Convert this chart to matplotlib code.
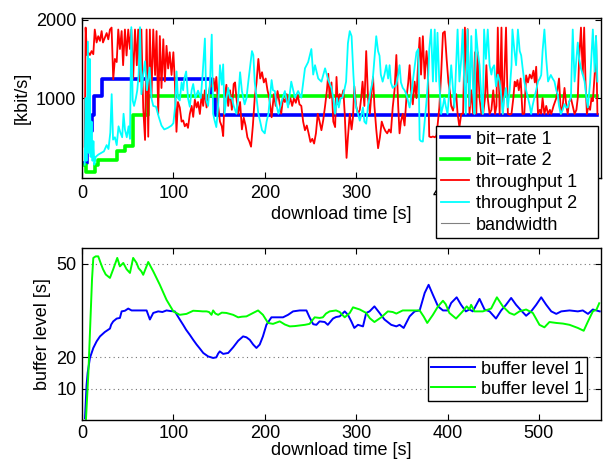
import numpy as np
import matplotlib
matplotlib.use("Agg")
import matplotlib.pyplot as plt

plt.rcParams['font.family'] = ['Liberation Sans', 'DejaVu Sans']

# bit-rate steps (time [s], kbit/s)
br1_t = [3, 5, 7, 11.5, 13, 21.5, 141, 146, 564]
br1_v = [170, 400, 580, 790, 1030, 1250, 1030, 790, 790]
br2_t = [3, 4.5, 14, 17, 38, 47, 56, 72.5, 564]
br2_v = [140, 60, 140, 210, 320, 390, 790, 1030, 1030]

# throughput 1
red = [
    (3, 380), (4, 1900), (5.5, 1550), (7, 1580), (8.7, 1550), (10.5, 1600), (12.4, 1560),
    (14, 1875), (16, 1710), (17.8, 1790), (19.7, 1730), (21.5, 1855), (23, 1710), (25, 1770),
    (27, 1830), (28.8, 1750), (30.6, 1875), (32.4, 1900), (34.2, 1240), (36, 1500), (38, 1460),
    (39.7, 1875), (41.5, 1626), (43.4, 1855), (45, 1420), (47, 1875), (48.8, 1544), (50.6, 1875),
    (52.5, 1626), (54, 1875), (56, 1254), (58, 1875), (60, 1419), (61.5, 1875), (63.4, 1212),
    (65, 1875), (67, 880), (69, 466), (70.7, 1875), (72.5, 507), (74.3, 1875), (76, 1005),
    (78, 1875), (80, 1295), (81.6, 1855), (83.4, 797), (85.2, 1792), (87, 1129), (89, 1751),
    (90.7, 1212), (92.5, 1667), (94.3, 1378), (96, 1585), (98, 1295), (100, 1585), (101.6, 1212),
    (103.4, 570), (105, 950), (107, 880), (109, 700), (110.7, 715), (112.5, 640), (114.4, 673),
    (116, 620), (118, 797), (120, 900), (121.7, 760), (123.5, 980), (125.4, 880), (127, 950),
    (129, 797), (131, 1050), (132.6, 900), (134.5, 1100), (136.3, 880), (138, 1000), (140, 1150),
    (142, 1150), (144, 1250), (145.5, 1090), (147, 1270), (149, 900), (151, 700), (153, 640),
    (154.5, 515), (156, 1000), (158, 1170), (160, 900), (162, 1100), (164, 850), (166, 1180),
    (167.5, 1200), (169, 1000), (171, 800), (173, 950), (175, 600), (177, 750), (179, 650),
    (181, 500), (183, 450), (185, 380), (187, 650), (189, 1000), (191, 1200), (193, 1500),
    (195, 1250), (197, 1330), (199, 1200), (201, 1250), (203, 1100), (205, 1000), (207.5, 755),
    (210, 1050), (212, 900), (214, 1090), (216, 950), (218, 800), (220, 1000), (222, 950),
    (224, 1050), (226, 920), (228, 1000), (230, 900), (232, 1000), (234, 940), (236, 1040),
    (238, 920), (240, 900), (242, 700), (244, 590), (246, 650), (248, 550), (250, 440),
    (252, 480), (254, 420), (256, 550), (258, 800), (260, 700), (262, 590), (264, 720),
    (266, 900), (268, 1100), (269.5, 1310), (271, 1000), (273, 1200), (275, 700), (277, 630),
    (278.5, 1270), (280, 920), (282, 1050), (284, 1000), (286, 1100), (287.5, 800), (289.5, 237),
    (291, 500), (293, 800), (295, 600), (296.5, 750), (298, 1150), (300, 900), (302, 800),
    (304, 850), (305.5, 1000), (307, 1210), (309, 900), (311, 1600), (313, 1000), (315, 800),
    (317, 1100), (318.5, 1270), (320, 900), (322, 600), (324, 360), (326, 500), (328, 700),
    (330, 630), (332, 580), (334, 550), (336, 600), (338, 560), (340, 880), (342, 1100),
    (344, 1550), (346, 900), (347.5, 550), (349, 700), (351, 800), (353, 650), (355, 1000),
    (357, 1200), (358.5, 1420), (360, 1100), (362, 920), (364, 1210), (366, 1000), (368, 1500),
    (369.5, 1770), (371, 1300), (373, 1790), (375, 1250), (377, 1600), (378.5, 1380), (380, 510),
    (382, 500), (384, 510), (386, 500), (388, 520), (389.5, 700), (391, 880), (393, 1300),
    (395, 1830), (397, 1850), (399, 1500), (401, 1200), (402.5, 1090), (404, 900), (406, 840),
    (408, 1000), (409.5, 1050), (411, 800), (413, 630), (415, 800), (417, 800), (419, 1900),
    (421, 1200), (422, 1880), (424, 800), (426, 1100), (428, 800), (430, 1585), (431.5, 800),
    (433, 1585), (435, 1000), (437, 800), (439, 800), (441, 1000), (442.5, 1420), (444, 1000),
    (446, 797), (448, 850), (450, 1100), (452, 797), (453.5, 900), (455, 1900), (457, 797),
    (459, 1900), (460.5, 797), (462, 1200), (464, 1900), (466, 800), (468, 790), (470, 800),
    (472, 1000), (473.5, 1210), (475, 1150), (476.5, 1230), (478, 1100), (480, 1250), (482, 797),
    (484, 800), (486, 1290), (488, 1200), (490, 1300), (492, 1250), (494, 1350), (495.5, 1200),
    (497, 1400), (499, 797), (501, 850), (502.5, 800), (504, 1000), (506, 797), (508, 900),
    (510, 797), (512, 850), (513.5, 797), (516, 900), (519, 1000), (522, 1250), (524, 797),
    (526, 900), (528, 1130), (530, 900), (531.5, 797), (533, 950), (535, 1000), (537, 900),
    (539, 797), (541, 850), (542.5, 1000), (544, 1500), (546, 1900), (548, 1300), (549.5, 1900),
    (551, 1200), (552.5, 797), (554, 900), (556, 850), (557.5, 1000), (559, 960), (561, 1300),
    (562.5, 1790), (564, 797),
]

# throughput 2
cyan = [
    (3, 150), (4, 1000), (5, 200), (6.5, 1720), (7.5, 300), (8.5, 1500), (9.5, 250), (10.5, 700),
    (11.5, 200), (12.5, 450), (13.5, 150), (15, 250), (18, 280), (21, 300), (24, 320), (27, 400),
    (29, 350), (31, 560), (32.5, 1050), (34, 470), (36, 500), (38, 400), (40, 640), (42, 560),
    (44, 500), (45.5, 800), (47, 600), (49, 500), (51, 640), (52.5, 480), (54, 1905), (55.5, 970),
    (57, 900), (59, 1000), (60.5, 1100), (62, 1300), (63.5, 1905), (65, 1050), (67, 1300),
    (69, 1470), (71, 1100), (74, 1390), (76, 1000), (78, 900), (81, 890), (84, 760), (87, 650),
    (90, 600), (94, 620), (98, 650), (100, 680), (102, 900), (103.5, 1340), (105, 1000),
    (107, 970), (109, 1200), (110.7, 1100), (112, 1250), (114, 1340), (116, 1000), (118, 890),
    (120, 1100), (121.7, 1180), (124, 1000), (127, 1095), (130, 1000), (132, 1300), (134.5, 1760),
    (136, 972), (138, 900), (140, 1180), (142, 1810), (143.5, 800), (145, 720), (147, 630),
    (149, 900), (151, 1420), (153, 1170), (154.5, 1430), (156, 800), (158, 1000), (160, 1130),
    (162, 1000), (164, 1000), (166, 900), (169, 800), (171, 1000), (173, 1330), (175, 1090),
    (178, 920), (180, 1000), (182, 1210), (184, 1400), (186, 1600), (187.5, 1550), (189, 1210),
    (191, 1000), (193, 800), (195, 700), (197, 590), (200, 550), (202, 700), (204, 800),
    (207.5, 1230), (209, 1100), (211, 1090), (213, 900), (215, 800), (218.5, 963), (222, 1090),
    (225.5, 880), (229, 1210), (233, 1005), (236.5, 1090), (240, 1005), (244, 1380),
    (247.5, 1460), (251, 1626), (253, 1300), (255, 1420), (258.5, 1250), (262, 1210),
    (266, 1380), (269.5, 1230), (273, 1130), (275, 1000), (277, 800), (279, 1000), (281, 880),
    (283, 1000), (285, 1005), (287, 1100), (289, 1210), (291, 1700), (293, 1855), (295, 1790),
    (297, 1300), (298.5, 1005), (300, 880), (302, 800), (304, 712), (306, 800), (307.5, 880),
    (309, 700), (311, 673), (313, 900), (314.6, 1005), (316, 1100), (318, 1210), (320, 1500),
    (322, 1790), (324, 1600), (325.6, 1540), (327, 1300), (329, 1210), (331, 1300), (333, 1420),
    (335, 1250), (336.6, 1420), (338, 1200), (340, 1130), (342, 1150), (344, 1170), (346, 1300),
    (347.5, 1420), (349, 1200), (351, 1130), (353, 1100), (355, 1046), (357, 950), (358.5, 880),
    (360, 1000), (362, 1212), (364, 1400), (366, 1585), (368, 1626), (369.5, 470), (371, 450),
    (373, 445), (375, 700), (377, 963), (379, 1300), (380, 1626), (382, 1875), (384, 1212),
    (386, 1875), (387.5, 1212), (389, 1834), (391, 1200), (393, 797), (395, 900), (396.5, 1005),
    (398, 900), (400, 797), (402, 1100), (404, 1419), (406, 1100), (407.5, 880), (409, 1300),
    (411, 1875), (413, 1212), (415, 1500), (416.6, 1875), (418, 1300), (420, 797), (422, 1875),
    (424, 900), (426, 1792), (428, 1100), (429.5, 797), (431, 1875), (433, 1600), (435, 1419),
    (437, 1000), (438.6, 797), (440, 1875), (442, 1500), (444, 1875), (446, 1419), (448, 1300),
    (449, 1378), (451, 1419), (453, 1150), (455, 1300), (457, 1212), (459, 1000), (460.5, 797),
    (462, 1000), (464, 1129), (466, 880), (468, 1100), (470, 1419), (471, 1875), (473, 1626),
    (475, 1419), (477, 1875), (479, 1600), (480.6, 1544), (482, 1400), (484, 1212), (486, 1100),
    (488, 1005), (490, 900), (491.5, 797), (493, 900), (495, 1005), (497, 1100), (499, 1212),
    (501, 1250), (502.5, 1295), (504, 1600), (506, 1875), (508, 1500), (510, 1212), (513, 1295),
    (515, 1250), (517, 1212), (519, 1100), (520.5, 1046), (522, 900), (524, 797), (526, 850),
    (528, 922), (530, 880), (531.5, 880), (533, 950), (535, 1005), (537, 1875), (539, 1212),
    (541, 1500), (542.5, 1709), (544, 1500), (546, 1378), (548, 1300), (550, 1212), (552, 1000),
    (553.5, 880), (556, 1200), (559, 1875), (561, 1337), (562.5, 1792), (564, 1212),
]

# buffer levels [s]
buf1 = [
    (3.3, 0.5), (5, 11), (6.2, 15), (8.7, 19.8), (12.4, 23), (16, 25.1), (19.7, 26.7), (25, 28.1),
    (30.6, 29.2), (32, 30.5), (34.2, 31.5), (38, 32.4), (41.5, 32.6), (43.4, 34.7), (47, 34.9),
    (50.6, 35.6), (54.3, 35.0), (60, 35.0), (65, 35.0), (70.7, 35.0), (74.3, 32.1), (78, 34.2),
    (83.4, 34.7), (88, 34.5), (92.5, 35.0), (97, 34.8), (101.6, 34.7), (107, 32.1), (110.7, 30.4),
    (114, 28.8), (118, 27.2), (121.7, 25.6), (125.4, 24.1), (129, 22.8), (132.7, 21.4),
    (138, 20.3), (143.5, 19.8), (147, 20.0), (149, 21.2), (150.8, 21.9), (154.5, 21.1),
    (160, 21.4), (165.4, 23.2), (170.9, 25.3), (176.3, 26.7), (180, 26.4), (183.6, 25.6),
    (187.3, 24.1), (190.9, 23.0), (194.5, 24.1), (198, 26.7), (201.8, 30.4), (207.3, 32.8),
    (212.8, 32.8), (220, 32.8), (225.5, 33.6), (231, 34.7), (238.3, 35.0), (245.6, 35.0),
    (249, 32.8), (253, 30.6), (256.5, 30.4), (260, 31.5), (265.6, 31.3), (269, 30.4),
    (274.7, 32.4), (278, 32.9), (282, 33.1), (287.5, 34.7), (291, 33.6), (294.7, 31.5),
    (298, 29.4), (302, 30.4), (307.5, 29.9), (311, 34.2), (314.7, 34.7), (320, 36.3),
    (325.6, 34.2), (331, 32.1), (338.4, 30.4), (344, 29.9), (347.5, 30.4), (352, 29.4),
    (358.5, 33.1), (364, 34.7), (369.5, 35.0), (375, 40.6), (379.3, 43.2), (384, 40.0),
    (389.6, 36.3), (395, 35.0), (400.4, 35.0), (404, 37.4), (410, 39.2), (414.8, 36.8),
    (420, 34.7), (424, 35.3), (427.7, 34.7), (435, 38.7), (440.5, 35.3), (446, 34.7),
    (453, 32.4), (458.7, 35.0), (464, 36.8), (469.6, 39.0), (475, 36.8), (480.5, 35.0),
    (486, 33.3), (491.5, 34.7), (497, 36.8), (502.5, 39.2), (508, 36.8), (513.5, 34.7),
    (519, 33.9), (524.4, 34.7), (533.5, 35.0), (542.6, 34.7), (548, 35.0), (553.7, 33.9),
    (559, 35.3), (566.5, 34.7),
]
buf2 = [
    (4.4, 0.3), (7, 15), (9, 30), (11, 45), (12.4, 51.8), (15, 52.3), (17.8, 52.3), (20, 50.5),
    (23, 48.2), (26, 46.5), (30.6, 45.4), (34.2, 48.2), (38.6, 51.8), (41.5, 49.1), (45.2, 50.2),
    (48.8, 48.2), (52.5, 47.0), (56, 51.8), (59.7, 50.2), (62, 48.5), (65, 47.5), (67, 46.4),
    (72.5, 50.5), (78, 47.5), (85.2, 43.2), (92.5, 38.4), (100, 34.7), (107, 33.6), (114.4, 33.9),
    (121.7, 34.9), (128, 34.8), (132, 34.7), (136.3, 34.7), (139, 34.5), (141.7, 33.6),
    (143.5, 35.0), (146, 34.0), (149, 33.6), (153, 34.3), (158, 34.2), (165.4, 33.6),
    (170.9, 32.8), (175, 33.0), (180, 33.1), (187.3, 34.2), (192.7, 35.0), (198, 33.6),
    (203.6, 31.0), (209, 30.7), (216.4, 31.5), (222, 30.5), (227.4, 29.9), (233, 30.0),
    (238.3, 30.2), (244, 30.4), (249, 30.7), (254.6, 32.8), (260, 32.6), (263.6, 32.8),
    (267, 34.0), (271, 34.7), (278, 35.0), (282, 34.5), (287.5, 32.8), (293, 34.2),
    (296.6, 36.0), (304, 35.3), (311, 34.2), (315, 32.5), (320, 31.3), (327.5, 32.8),
    (334.7, 34.7), (340, 34.5), (344, 34.0), (351, 35.0), (360, 35.0), (369.5, 35.0),
    (374, 33.0), (377.8, 31.0), (384, 33.6), (389.6, 36.3), (395, 38.1), (398, 37.0),
    (402, 34.2), (409.3, 32.4), (416.6, 34.7), (421, 36.3), (424, 35.3), (425.8, 36.8),
    (429.5, 34.7), (438.6, 34.7), (447.7, 35.6), (454, 39.2), (460.5, 36.3), (467.8, 34.2),
    (473, 33.6), (478.7, 34.7), (486, 35.3), (493.3, 34.2), (500.6, 30.4), (506, 29.6),
    (511.5, 31.3), (519, 31.0), (526.3, 30.8), (533.5, 30.4), (542.6, 29.4), (549, 28.5),
    (553.7, 31.5), (559, 34.7), (563, 35.3), (566, 37.3),
]

x_ticks = [0, 100, 200, 300, 400, 500]
top_yticks = [1000, 2000]
bot_yticks = [10, 20, 50]

red_t, red_v = zip(*red)
cyan_t, cyan_v = zip(*cyan)
b1_t, b1_v = zip(*buf1)
b2_t, b2_v = zip(*buf2)

fs = 13
fig = plt.figure(figsize=(6.05, 4.66), dpi=100)
ax1 = fig.add_axes([0.1355, 0.618, 0.858, 0.343])
ax2 = fig.add_axes([0.1355, 0.099, 0.858, 0.369])

ax1.plot(br1_t, br1_v, color='#0000ff', lw=2.6, drawstyle='steps-post', label='bit\u2212rate 1')
ax1.plot(br2_t, br2_v, color='#00ff00', lw=2.6, drawstyle='steps-post', label='bit\u2212rate 2')
ax1.plot(red_t, red_v, color='#ff0000', lw=1.3, label='throughput 1')
ax1.plot(cyan_t, cyan_v, color='#00ffff', lw=1.3, label='throughput 2')
ax1.plot([], [], color='0.5', lw=0.8, label='bandwidth')

ax2.plot(b1_t, b1_v, color='#0000ff', lw=1.4, label='buffer level 1')
ax2.plot(b2_t, b2_v, color='#00ff00', lw=1.4, label='buffer level 1')

ax1.set_xlim(0, 568)
ax1.set_ylim(-20, 2020)
ax2.set_xlim(0, 568)
ax2.set_ylim(0, 55)

for ax in (ax1, ax2):
    ax.set_xticks(x_ticks)
    ax.tick_params(direction='in', top=True, right=True, length=4, width=0.8,
                   labelsize=fs, pad=4)
    for s in ax.spines.values():
        s.set_linewidth(1.0)
ax1.tick_params(axis='x', pad=5)
ax1.set_xlabel('download time [s]', fontsize=fs, labelpad=3)
ax2.set_xlabel('download time [s]', fontsize=fs, labelpad=0)

ax1.set_yticks(top_yticks)
ax1.set_ylabel('[kbit/s]', fontsize=fs, labelpad=4)
ax2.set_yticks(bot_yticks)
ax2.set_ylabel('buffer level [s]', fontsize=fs, labelpad=4)
ax2.grid(axis='y', linestyle=(0, (1, 3)), color='0.45', lw=0.8)

leg1 = ax1.legend(loc='upper left', bbox_to_anchor=(0.7207, 0.5, 0.268, 0.2296),
                  bbox_transform=fig.transFigure, mode='expand',
                  fontsize=fs, frameon=True, fancybox=False, framealpha=1, edgecolor='black',
                  handlelength=1.6, handletextpad=0.35, labelspacing=0.25, borderpad=0.25,
                  borderaxespad=0)
leg1.get_frame().set_linewidth(1.0)
leg1.set_zorder(10)

leg2 = ax2.legend(loc='upper left', bbox_to_anchor=(0.707, 0.234), bbox_transform=fig.transFigure,
                  fontsize=fs, frameon=True, fancybox=False, framealpha=1, edgecolor='black',
                  handlelength=2.4, handletextpad=0.35, labelspacing=0.18, borderpad=0.2,
                  borderaxespad=0)
leg2.get_frame().set_linewidth(1.0)

fig.savefig('out.png', dpi=100)
